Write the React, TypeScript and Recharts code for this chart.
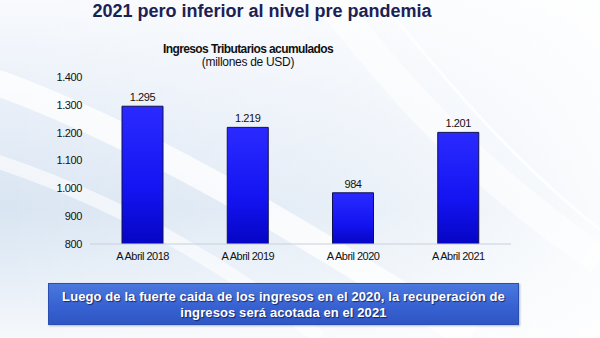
import React from "react";
import { BarChart, Bar, XAxis, YAxis, LabelList } from "recharts";

// Ingresos tributarios acumulados a abril (millones de USD)
const categories = ["A Abril 2018", "A Abril 2019", "A Abril 2020", "A Abril 2021"];
const ingresos = [1295, 1219, 984, 1201];
const yTicks = [800, 900, 1000, 1100, 1200, 1300, 1400];

const pageTitle = "2021 pero inferior al nivel pre pandemia";
const chartTitle = "Ingresos Tributarios acumulados";
const chartSubtitle = "(millones de USD)";
const noteLines = [
  "Luego de la fuerte caida de los ingresos en el 2020, la recuperación de",
  "ingresos será acotada en el 2021",
];

const data = categories.map((name, i) => ({ name, value: ingresos[i] }));

const FONT = '"Liberation Sans", Arial, sans-serif';

// 1295 -> "1.295"
const fmt = (v: number) => String(v).replace(/\B(?=(\d{3})+(?!\d))/g, ".");

export default function App() {
  return (
    <div
      style={{
        position: "absolute",
        left: 0,
        top: 0,
        width: 600,
        height: 338,
        overflow: "hidden",
        fontFamily: FONT,
        background:
          "linear-gradient(180deg, #f8fafd 0%, #e7eef8 35%, #d9e5f2 62%, #e6eef7 82%, #f6f8fb 100%)",
      }}
    >
      {/* slide backdrop swooshes */}
      <svg width={600} height={338} style={{ position: "absolute", left: 0, top: 0 }}>
        <defs>
          <linearGradient id="fadeRight" x1="0" y1="0" x2="1" y2="0">
            <stop offset="0%" stopColor="#ffffff" stopOpacity={0} />
            <stop offset="55%" stopColor="#ffffff" stopOpacity={0.35} />
            <stop offset="100%" stopColor="#ffffff" stopOpacity={0.85} />
          </linearGradient>
        </defs>
        <rect x={0} y={0} width={600} height={338} fill="url(#fadeRight)" />
        <path d="M-40 70 C 120 120, 300 230, 470 338" stroke="#ffffff" strokeOpacity={0.75} strokeWidth={26} fill="none" />
        <path d="M-40 150 C 100 190, 220 260, 320 338" stroke="#ffffff" strokeOpacity={0.6} strokeWidth={14} fill="none" />
        <path d="M380 0 C 430 60, 500 150, 600 230" stroke="#ffffff" strokeOpacity={0.8} strokeWidth={3} fill="none" />
        <path d="M330 0 C 400 90, 470 170, 600 260" stroke="#ffffff" strokeOpacity={0.55} strokeWidth={30} fill="none" />
      </svg>

      <div
        style={{
          position: "absolute",
          left: 62,
          width: 400,
          top: 2,
          textAlign: "center",
          fontSize: 18,
          lineHeight: "19px",
          fontWeight: 700,
          color: "#1b2154",
          whiteSpace: "nowrap",
        }}
      >
        {pageTitle}
      </div>

      <div
        style={{
          position: "absolute",
          left: 98,
          width: 300,
          top: 43,
          textAlign: "center",
          fontSize: 12,
          lineHeight: "13px",
          fontWeight: 700,
          letterSpacing: -0.6,
          color: "#111",
        }}
      >
        {chartTitle}
        <div style={{ fontWeight: 400, letterSpacing: -0.3 }}>{chartSubtitle}</div>
      </div>

      <div style={{ position: "absolute", left: 0, top: 0 }}>
        <BarChart
          width={600}
          height={338}
          data={data}
          margin={{ top: 77, right: 89, bottom: 64, left: 0 }}
          barSize={41}
        >
          <defs>
            <linearGradient id="barFill" x1="0" y1="0" x2="0" y2="1">
              <stop offset="0%" stopColor="#2a2aff" />
              <stop offset="60%" stopColor="#1414f2" />
              <stop offset="100%" stopColor="#0505c4" />
            </linearGradient>
          </defs>
          <XAxis
            dataKey="name"
            tickLine={false}
            axisLine={{ stroke: "#c9d0dc" }}
            tick={{ fontSize: 11, fill: "#111", fontFamily: FONT, letterSpacing: -0.5 }}
            interval={0}
          />
          <YAxis
            width={90}
            domain={[800, 1400]}
            ticks={yTicks}
            tickFormatter={fmt}
            axisLine={false}
            tickLine={false}
            allowDataOverflow
            tick={{ fontSize: 11, fill: "#111", fontFamily: FONT, letterSpacing: -0.4 }}
          />
          <Bar
            dataKey="value"
            fill="url(#barFill)"
            stroke="#10104e"
            strokeWidth={1}
            isAnimationActive={false}
          >
            <LabelList
              dataKey="value"
              position="top"
              offset={5}
              formatter={(v: any) => fmt(Number(v))}
              style={{ fontSize: 11, fill: "#111", fontFamily: FONT, letterSpacing: -0.4 }}
            />
          </Bar>
        </BarChart>
      </div>

      <div
        style={{
          position: "absolute",
          left: 48,
          top: 283,
          width: 471,
          height: 42,
          boxSizing: "border-box",
          background: "linear-gradient(180deg, #4a78de 0%, #3862d2 55%, #2e56c4 100%)",
          border: "1px solid #2a4fb0",
          boxShadow: "1px 1px 2px rgba(40,60,120,0.35)",
          color: "#ffffff",
          fontWeight: 700,
          fontSize: 13,
          lineHeight: "15.5px",
          letterSpacing: 0.1,
          textAlign: "center",
          paddingTop: 5,
          textShadow: "1px 1px 1px rgba(0,0,40,0.6)",
          whiteSpace: "nowrap",
        }}
      >
        {noteLines.map((l) => (
          <div key={l}>{l}</div>
        ))}
      </div>
    </div>
  );
}
